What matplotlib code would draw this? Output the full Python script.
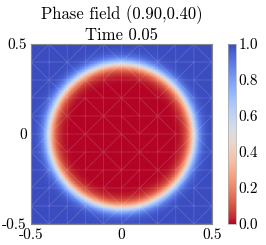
import matplotlib.pyplot as plt
import matplotlib.tri as mtri
import numpy as np

plt.rcParams['font.family'] = 'serif'
plt.rcParams['font.serif'] = ['cmr10']
plt.rcParams['mathtext.fontset'] = 'cm'
plt.rcParams['axes.formatter.use_mathtext'] = True

# phase field parameters
center = (0.0, -0.01)
radius = 0.40
width = 0.04
xticks = [-0.5, 0, 0.5]
yticks = [-0.5, 0, 0.5]
cticks = [0.0, 0.2, 0.4, 0.6, 0.8, 1.0]

# fine mesh for the field, coarse mesh for the faint edges
n = 120
gx, gy = np.meshgrid(np.linspace(-0.5, 0.5, n + 1), np.linspace(-0.5, 0.5, n + 1))
r = np.hypot(gx - center[0], gy - center[1])
phi = 0.5 * (1 + np.tanh((r - radius) / width))

fig = plt.figure(figsize=(2.66, 2.45), dpi=100)
ax = fig.add_axes([31 / 266, 21 / 245, 181 / 266, 180 / 245])
im = ax.pcolormesh(gx, gy, phi, cmap='coolwarm_r', vmin=0, vmax=1, shading='gouraud')

m = 10
cx, cy = np.meshgrid(np.linspace(-0.5, 0.5, m + 1), np.linspace(-0.5, 0.5, m + 1))
tri = mtri.Triangulation(cx.ravel(), cy.ravel())
ax.triplot(tri, color='white', lw=0.5, alpha=0.18)

ax.set_xlim(-0.5, 0.5)
ax.set_ylim(-0.5, 0.5)
ax.set_xticks(xticks)
ax.set_yticks(yticks)
ax.set_xticklabels(['-0.5', '0', '0.5'])
ax.set_yticklabels(['-0.5', '0', '0.5'])
ax.tick_params(length=0, labelsize=11, pad=3)
for s in ax.spines.values():
    s.set_color('#888888')
    s.set_linewidth(0.8)
ax.set_title('Phase field (0.90,0.40)\nTime 0.05', fontsize=12, linespacing=1.25, pad=3)

cax = fig.add_axes([228 / 266, 21 / 245, 8 / 266, 180 / 245])
cb = fig.colorbar(im, cax=cax, ticks=cticks)
cb.ax.set_yticklabels(['%.1f' % t for t in cticks])
cb.ax.tick_params(length=0, labelsize=11, pad=2)
cb.outline.set_edgecolor('#aaaaaa')
cb.outline.set_linewidth(0.5)

fig.savefig('out.png', dpi=100)
